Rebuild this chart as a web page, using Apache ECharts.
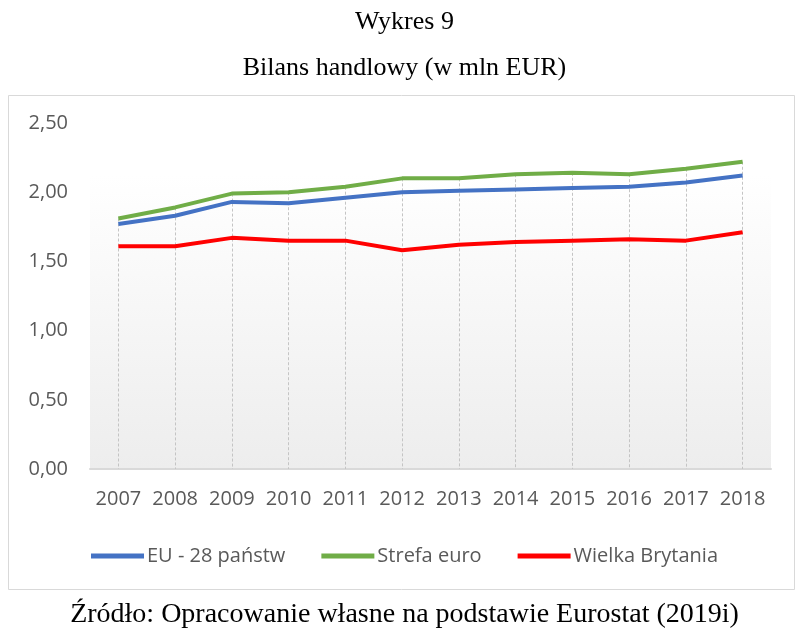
<!DOCTYPE html>
<html>
<head>
<meta charset="utf-8">
<script src="https://cdn.jsdelivr.net/npm/echarts@6/dist/echarts.min.js"></script>
<style>
html,body{margin:0;padding:0;background:#fff;}
#chart{width:809px;height:640px;}
</style>
</head>
<body>
<div id="chart"></div>
<script>
const years = ['2007','2008','2009','2010','2011','2012','2013','2014','2015','2016','2017','2018'];
const eu28 = [1.77,1.83,1.93,1.92,1.96,2.00,2.01,2.02,2.03,2.04,2.07,2.12];
const euroArea = [1.81,1.89,1.99,2.00,2.04,2.10,2.10,2.13,2.14,2.13,2.17,2.22];
const uk = [1.61,1.61,1.67,1.65,1.65,1.58,1.62,1.64,1.65,1.66,1.65,1.71];
const seriesNames = ['EU - 28 państw','Strefa euro','Wielka Brytania'];
const yTicks = {min:0, max:2.5, interval:0.5};

const chart = echarts.init(document.getElementById('chart'));
const tickFont = 'Open Sans';
const dropLines = years.map((y,i)=>{
  const top = Math.max(eu28[i], euroArea[i], uk[i]);
  return [{coord:[i, top]},{coord:[i, 0]}];
});

chart.setOption({
  animation:false,
  backgroundColor:'#fff',
  title:[
    {text:'Wykres 9', left:'center', top:4, textStyle:{fontFamily:'Liberation Serif', fontSize:26, fontWeight:'normal', color:'#000'}},
    {text:'Bilans handlowy (w mln EUR)', left:'center', top:50, textStyle:{fontFamily:'Liberation Serif', fontSize:26, fontWeight:'normal', color:'#000'}},
    {text:'Źródło: Opracowanie własne na podstawie Eurostat (2019i)', left:'center', top:596, textStyle:{fontFamily:'Liberation Serif', fontSize:28, fontWeight:'normal', color:'#000'}}
  ],
  graphic:[
    {type:'rect', shape:{x:8.5,y:95.5,width:786,height:494}, style:{fill:'none', stroke:'#d9d9d9', lineWidth:1}, z:-1}
  ],
  grid:{left:90, right:38, top:123, bottom:171, show:true, borderWidth:0,
    backgroundColor:new echarts.graphic.LinearGradient(0,0,0,1,[{offset:0,color:'#ffffff'},{offset:0.15,color:'#ffffff'},{offset:1,color:'#ededed'}])},
  legend:{
    data:seriesNames, top:541, left:'center', itemWidth:53, itemHeight:5, itemGap:36,
    icon:'rect',
    textStyle:{fontFamily:tickFont, fontSize:20, color:'#595959', padding:[0,0,0,-2]}
  },
  xAxis:{
    type:'category', data:years, boundaryGap:true,
    axisLine:{show:true, lineStyle:{color:'#d9d9d9', width:2}},
    axisTick:{show:false},
    axisLabel:{interval:0, hideOverlap:false, fontFamily:tickFont, fontSize:20, color:'#595959', margin:20},
    splitLine:{show:false}
  },
  yAxis:{
    type:'value', min:yTicks.min, max:yTicks.max, interval:yTicks.interval,
    axisLine:{show:false}, axisTick:{show:false}, splitLine:{show:false},
    axisLabel:{fontFamily:tickFont, fontSize:20, color:'#595959', margin:22,
      formatter:v=>v.toFixed(2).replace('.',',')}
  },
  series:[
    {name:seriesNames[0], type:'line', data:eu28, showSymbol:false, symbol:'none', lineStyle:{width:4, color:'#4472C4'}, itemStyle:{color:'#4472C4'}, z:3},
    {name:seriesNames[1], type:'line', data:euroArea, showSymbol:false, symbol:'none', lineStyle:{width:4, color:'#70AD47'}, itemStyle:{color:'#70AD47'}, z:3,
      markLine:{silent:true, symbol:'none', label:{show:false}, animation:false,
        lineStyle:{color:'#c4c4c4', type:[3,2], width:1}, data:dropLines, z:1}},
    {name:seriesNames[2], type:'line', data:uk, showSymbol:false, symbol:'none', lineStyle:{width:4, color:'#FF0000'}, itemStyle:{color:'#FF0000'}, z:3}
  ]
});
</script>
</body>
</html>
